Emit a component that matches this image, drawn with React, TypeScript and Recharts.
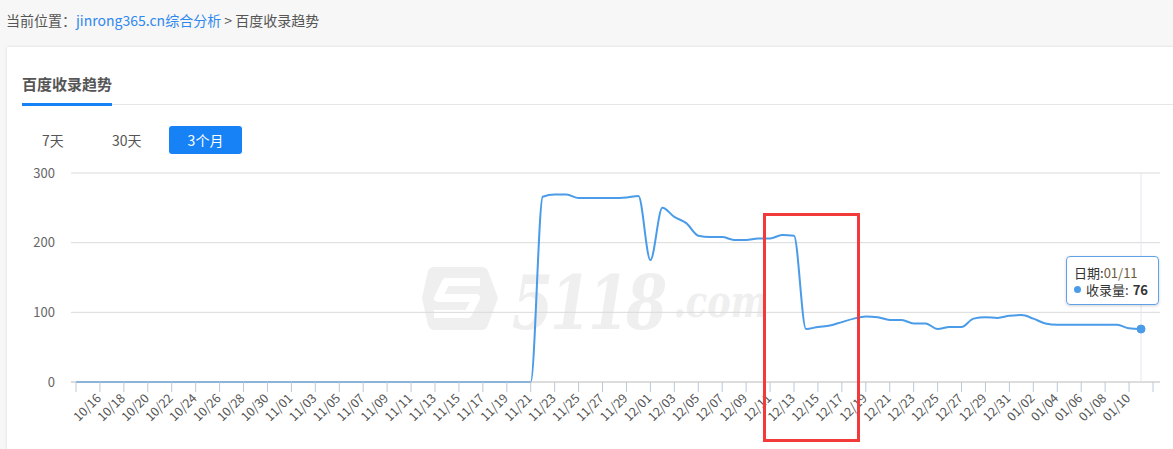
import React from 'react';
import { LineChart, Line, XAxis, YAxis, CartesianGrid, Tooltip } from 'recharts';

// daily dates, last entry is only axis padding (no value)
const dates = [
  '10/14', '10/15', '10/16', '10/17', '10/18', '10/19', '10/20', '10/21', '10/22', '10/23',
  '10/24', '10/25', '10/26', '10/27', '10/28', '10/29', '10/30', '10/31',
  '11/01', '11/02', '11/03', '11/04', '11/05', '11/06', '11/07', '11/08', '11/09', '11/10',
  '11/11', '11/12', '11/13', '11/14', '11/15', '11/16', '11/17', '11/18', '11/19', '11/20',
  '11/21', '11/22', '11/23', '11/24', '11/25', '11/26', '11/27', '11/28', '11/29', '11/30',
  '12/01', '12/02', '12/03', '12/04', '12/05', '12/06', '12/07', '12/08', '12/09', '12/10',
  '12/11', '12/12', '12/13', '12/14', '12/15', '12/16', '12/17', '12/18', '12/19', '12/20',
  '12/21', '12/22', '12/23', '12/24', '12/25', '12/26', '12/27', '12/28', '12/29', '12/30',
  '12/31', '01/01', '01/02', '01/03', '01/04', '01/05', '01/06', '01/07', '01/08', '01/09',
  '01/10', '01/11', '01/12'
];

const counts = [
  0, 0, 0, 0, 0, 0, 0, 0, 0, 0,
  0, 0, 0, 0, 0, 0, 0, 0,
  0, 0, 0, 0, 0, 0, 0, 0, 0, 0,
  0, 0, 0, 0, 0, 0, 0, 0, 0, 0,
  0, 266, 269, 269, 264, 264, 264, 264, 265, 267,
  175, 250, 237, 228, 210, 208, 208, 204, 204, 206,
  206, 211, 210, 76, 79, 81, 86, 91, 94, 93,
  89, 89, 84, 84, 76, 79, 79, 91, 93, 92,
  95, 96, 91, 84, 82, 82, 82, 82, 82, 82,
  77, 76
];

const yTicks = [0, 100, 200, 300];
const hiddenLabels = ['10/14', '01/12'];

const rows = dates.map((d, i) => ({ date: d, count: i < counts.length ? counts[i] : null }));

const BLUE = '#1682f5';
const LINE = '#4a9be8';

const DateTick = (props: any) => {
  const { x, y, payload } = props;
  if (hiddenLabels.includes(payload.value)) return null;
  const ax = x + 2;
  const ay = y + 5;
  return (
    <text
      x={ax}
      y={ay}
      textAnchor="end"
      fontSize={12.5}
      fill="#555"
      transform={`rotate(-45 ${ax} ${ay})`}
    >
      {payload.value}
    </text>
  );
};

const Tip = (props: any) => {
  const { active, payload, label } = props;
  if (!active || !payload || !payload.length) return null;
  return (
    <div
      style={{
        boxSizing: 'border-box',
        width: 93,
        height: 49,
        background: 'rgba(255,255,255,0.96)',
        border: '1px solid #5ea2ea',
        borderRadius: 4,
        boxShadow: '0 1px 3px rgba(0,0,0,0.18)',
        padding: '7px 0 0 7px',
        fontSize: 13,
        lineHeight: '17px',
        color: '#333'
      }}
    >
      <div>
        日期:<span style={{ color: '#6b5a3c' }}>{label}</span>
      </div>
      <div style={{ display: 'flex', alignItems: 'center' }}>
        <span
          style={{
            display: 'inline-block',
            width: 7,
            height: 7,
            borderRadius: '50%',
            background: LINE,
            marginRight: 5
          }}
        />
        收录量: <b style={{ marginLeft: 4, color: '#333' }}>{payload[0].value}</b>
      </div>
    </div>
  );
};

const Watermark = () => (
  <div style={{ position: 'absolute', left: 420, top: 262, width: 360, height: 75 }}>
    <svg width={80} height={70} style={{ position: 'absolute', left: 0, top: 2 }}>
      <path
        d="M14 3 L62 3 Q66 3 68 7 L78 34 L68 61 Q66 66 62 66 L14 66 Q10 66 8 61 L2 34 L8 7 Q10 3 14 3 Z"
        fill="#efefef"
      />
      <path
        d="M60 18 L26 18 L18 34 L56 34 L48 50 L14 50"
        fill="none"
        stroke="#ffffff"
        strokeWidth={8}
        strokeLinejoin="round"
      />
    </svg>
    <span
      style={{
        position: 'absolute',
        left: 92,
        top: 1,
        display: 'inline-block',
        whiteSpace: 'nowrap',
        transform: 'scaleX(0.8)',
        transformOrigin: 'left top',
        fontSize: 74,
        lineHeight: '80px',
        fontWeight: 'bold',
        fontStyle: 'italic',
        fontFamily: '"DejaVu Serif", serif',
        color: '#efefef',
        letterSpacing: -4
      }}
    >
      5118
      <span style={{ position: 'relative', top: -12, marginLeft: 12, fontSize: 44, letterSpacing: 0 }}>.com</span>
    </span>
  </div>
);

export default function App() {
  return (
    <div
      style={{
        position: 'absolute',
        left: 0,
        top: 0,
        width: 1173,
        height: 449,
        overflow: 'hidden',
        background: '#f7f7f7',
        fontFamily: '"Microsoft YaHei", "Noto Sans CJK SC", sans-serif'
      }}
    >
      <div style={{ position: 'absolute', left: 6, top: 10, fontSize: 14, lineHeight: '20px', color: '#555' }}>
        当前位置：<span style={{ color: '#2f88ee' }}>jinrong365.cn综合分析</span> &gt; 百度收录趋势
      </div>

      <div
        style={{
          position: 'absolute',
          left: 7,
          top: 47,
          width: 1200,
          height: 420,
          background: '#fff',
          boxShadow: '0 0 3px rgba(0,0,0,0.12)'
        }}
      />

      <div
        style={{
          position: 'absolute',
          left: 22,
          top: 73,
          fontSize: 15,
          fontWeight: 'bold',
          color: '#555',
          lineHeight: '22px'
        }}
      >
        百度收录趋势
      </div>
      <div style={{ position: 'absolute', left: 112, top: 104, width: 1061, height: 1, background: '#e6e6e6' }} />
      <div style={{ position: 'absolute', left: 22, top: 103, width: 90, height: 3, background: BLUE }} />

      <div style={{ position: 'absolute', left: 42, top: 131, fontSize: 14, lineHeight: '18px', color: '#555' }}>7天</div>
      <div style={{ position: 'absolute', left: 112, top: 131, fontSize: 14, lineHeight: '18px', color: '#555' }}>30天</div>
      <div
        style={{
          position: 'absolute',
          left: 169,
          top: 126,
          width: 73,
          height: 28,
          borderRadius: 3,
          background: BLUE,
          color: '#fff',
          fontSize: 14,
          lineHeight: '28px',
          textAlign: 'center'
        }}
      >
        3个月
      </div>

      <Watermark />

      <div style={{ position: 'absolute', left: 0, top: 0 }}>
        <LineChart width={1173} height={449} data={rows} margin={{ top: 173, right: 13, bottom: 37, left: 11 }}>
          <CartesianGrid vertical={false} stroke="#dadada" />
          <XAxis
            dataKey="date"
            interval={1}
            height={30}
            padding={{ left: 5, right: 7 }}
            axisLine={{ stroke: '#cccccc' }}
            tickLine={{ stroke: '#b9c8da' }}
            tickSize={10}
            tick={<DateTick />}
          />
          <YAxis
            domain={[0, 300]}
            ticks={yTicks}
            axisLine={false}
            tickLine={false}
            tickSize={0}
            tickMargin={16}
            width={60}
            tick={{ fill: '#666', fontSize: 13 }}
          />
          <Tooltip
            defaultIndex={89}
            cursor={{ stroke: '#e2e9f4', strokeWidth: 1 }}
            position={{ x: 1066, y: 256 }}
            content={<Tip />}
            isAnimationActive={false}
            wrapperStyle={{ outline: 'none' }}
          />
          <Line
            type="monotone"
            dataKey="count"
            stroke={LINE}
            strokeWidth={2}
            dot={false}
            activeDot={{ r: 4, fill: LINE, stroke: LINE, strokeWidth: 1 }}
            isAnimationActive={false}
          />
        </LineChart>
      </div>

      <div
        style={{
          position: 'absolute',
          left: 763,
          top: 213,
          width: 97,
          height: 229,
          boxSizing: 'border-box',
          border: '3px solid #f23a3a'
        }}
      />
    </div>
  );
}
